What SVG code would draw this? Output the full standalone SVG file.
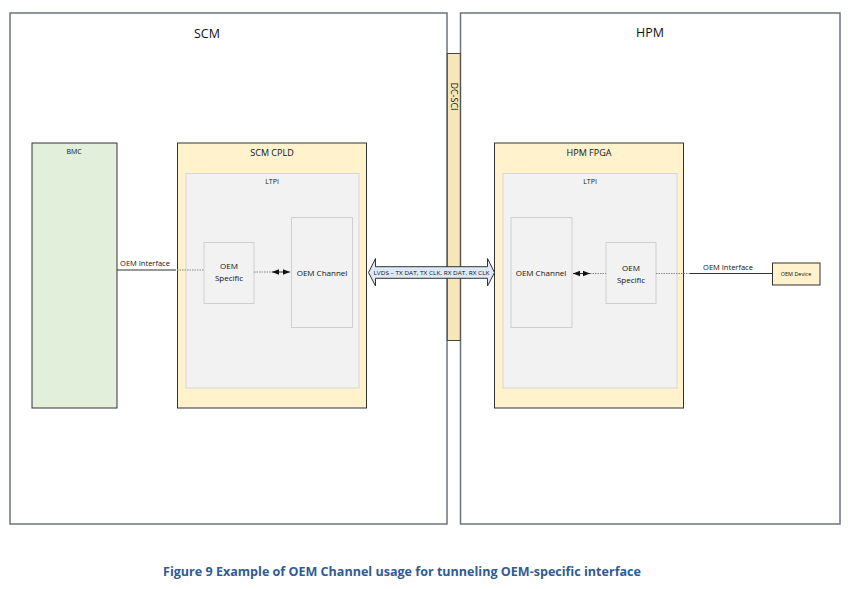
<svg xmlns="http://www.w3.org/2000/svg" width="865" height="589" viewBox="0 0 865 589">
<defs>
<style>
text{font-family:"Open Sans","Liberation Sans",sans-serif;fill:#111}
.outer{fill:#fff;stroke:#6d747c;stroke-width:1.5}
.fpga{fill:#fff2cc;stroke:#333;stroke-width:1}
.ltpi{fill:#f2f2f2;stroke:#d6d6d6;stroke-width:1}
.blk{fill:#f2f2f2;stroke:#cfcfcf;stroke-width:1}
.t8{font-size:8px;text-anchor:middle}
.line{stroke:#333;stroke-width:1;fill:none}
.dot{stroke:#888;stroke-width:1;stroke-dasharray:1.5 1;fill:none}
</style>
<marker id="ah" viewBox="0 0 10 10" refX="10" refY="5" markerWidth="7" markerHeight="7" orient="auto-start-reverse" markerUnits="userSpaceOnUse"><path d="M0,1 L10,5 L0,9 z" fill="#111"/></marker>
</defs>
<rect width="865" height="589" fill="#fff"/>
<g id="scm"><rect class="outer" x="10" y="13" width="437" height="511"/><text x="207" y="38" font-size="12.5" text-anchor="middle">SCM</text></g>
<g id="hpm"><rect class="outer" x="460.5" y="13" width="379.5" height="511"/><text x="650" y="37" font-size="12.5" text-anchor="middle">HPM</text></g>
<g id="dcsci"><rect x="447.3" y="53.5" width="13" height="287" fill="#f6e7b9" stroke="#444" stroke-width="1"/><text transform="translate(450.5,96.5) rotate(90)" font-size="9" text-anchor="middle">DC-SCI</text></g>
<g id="bmc"><rect x="32" y="143" width="85" height="265" fill="#e2efda" stroke="#333" stroke-width="1"/><text x="74" y="154" font-size="7" text-anchor="middle">BMC</text></g>
<g id="scmcpld"><rect class="fpga" x="177.5" y="143" width="189" height="265"/><text x="272" y="156" font-size="9" text-anchor="middle">SCM CPLD</text></g>
<g id="scmltpi"><rect class="ltpi" x="186" y="173.5" width="173" height="214.5"/><text x="272" y="184" font-size="7" text-anchor="middle">LTPI</text></g>
<g id="scmspec"><rect class="blk" x="204" y="242.5" width="50" height="61"/><text class="t8" x="229" y="269">OEM</text><text class="t8" x="229" y="281">Specific</text></g>
<g id="scmchan"><rect class="blk" x="291.5" y="217.5" width="61" height="110"/><text class="t8" x="322" y="276">OEM Channel</text></g>
<g id="hpmfpga"><rect class="fpga" x="494.5" y="143" width="189" height="265"/><text x="589" y="156" font-size="9" text-anchor="middle">HPM FPGA</text></g>
<g id="hpmltpi"><rect class="ltpi" x="503" y="173.5" width="174" height="214.5"/><text x="590" y="184" font-size="7" text-anchor="middle">LTPI</text></g>
<g id="hpmchan"><rect class="blk" x="511" y="217.5" width="61" height="110"/><text class="t8" x="541" y="276">OEM Channel</text></g>
<g id="hpmspec"><rect class="blk" x="606" y="242.5" width="50" height="61"/><text class="t8" x="631" y="271">OEM</text><text class="t8" x="631" y="283">Specific</text></g>
<g id="oemdev"><rect x="772.5" y="263" width="47.5" height="22" fill="#fff2cc" stroke="#333" stroke-width="1"/><text x="796" y="276" font-size="5.5" text-anchor="middle">OEM Device</text></g>
<g id="connectors">
<line class="line" x1="117" y1="270" x2="176" y2="270"/>
<line class="dot" x1="177" y1="270" x2="204" y2="270"/>
<text x="145" y="266" font-size="7.5" text-anchor="middle">OEM Interface</text>
<line class="dot" x1="254" y1="272" x2="272" y2="272"/>
<line class="line" x1="272" y1="272" x2="290" y2="272" marker-start="url(#ah)" marker-end="url(#ah)"/>
<line class="dot" x1="590" y1="273.5" x2="606" y2="273.5"/>
<line class="line" x1="573" y1="273.5" x2="590" y2="273.5" marker-start="url(#ah)" marker-end="url(#ah)"/>
<line class="dot" x1="656" y1="273.5" x2="690" y2="273.5"/>
<line class="line" x1="690" y1="273.5" x2="772" y2="273.5"/>
<text x="728" y="269.5" font-size="7.5" text-anchor="middle">OEM Interface</text>
<path d="M368.5,272.5 L375.5,258.5 L375.5,266.7 L487.5,266.7 L487.5,258.5 L494.5,272.5 L487.5,286 L487.5,278.3 L375.5,278.3 L375.5,286 Z" fill="#dde9f6" stroke="#333" stroke-width="1"/>
<text x="431.5" y="275" font-size="5.8" text-anchor="middle" textLength="116" lengthAdjust="spacingAndGlyphs">LVDS – TX DAT, TX CLK, RX DAT, RX CLK</text>
</g>
<text x="402" y="576" font-size="12.5" font-weight="bold" text-anchor="middle" style="fill:#2f5b96" textLength="478" lengthAdjust="spacingAndGlyphs">Figure 9 Example of OEM Channel usage for tunneling OEM-specific interface</text>
</svg>
